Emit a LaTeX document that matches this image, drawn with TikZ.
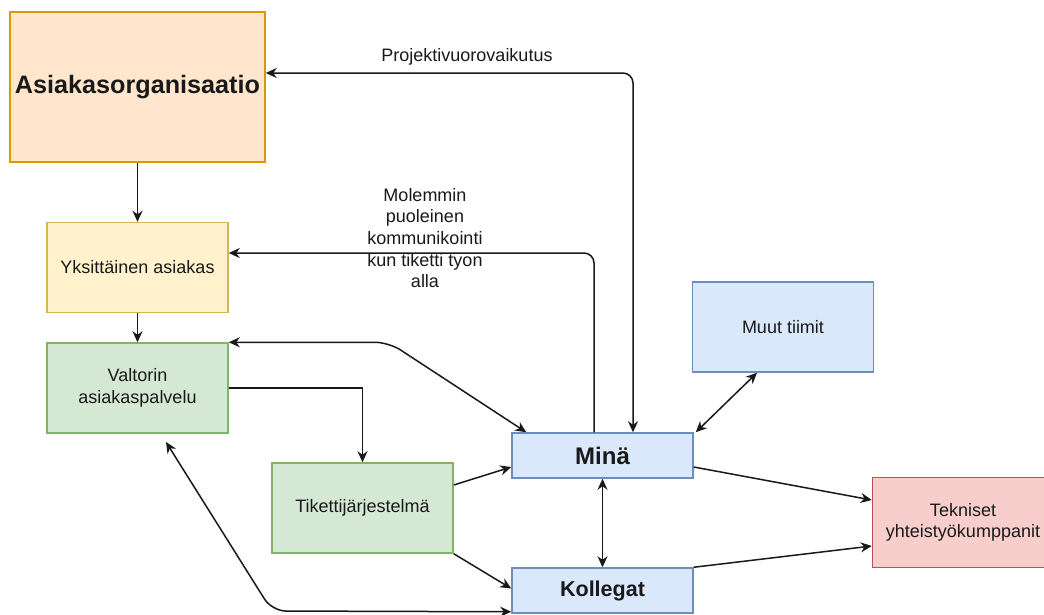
\documentclass[tikz,border=0pt]{standalone}
\usepackage{fontspec}
\setmainfont{Liberation Sans}
\usetikzlibrary{arrows.meta,calc}
\definecolor{orF}{HTML}{FFE6CC}\definecolor{orD}{HTML}{D79B00}
\definecolor{yeF}{HTML}{FFF2CC}\definecolor{yeD}{HTML}{D6B656}
\definecolor{grF}{HTML}{D5E8D4}\definecolor{grD}{HTML}{82B366}
\definecolor{blF}{HTML}{DAE8FC}\definecolor{blD}{HTML}{6C8EBF}
\definecolor{reF}{HTML}{F8CECC}\definecolor{reD}{HTML}{B85450}
\tikzset{
  box/.style={draw, line width=1.5pt, inner sep=0pt, align=center,
    font=\fontsize{18}{21.6}\selectfont, text=black!90},
  orbox/.style={box, fill=orF, draw=orD, minimum width=255pt, minimum height=150pt},
  yebox/.style={box, fill=yeF, draw=yeD, minimum width=181pt, minimum height=90pt},
  grbox/.style={box, fill=grF, draw=grD, minimum width=181pt, minimum height=90pt},
  blbox/.style={box, fill=blF, draw=blD, minimum width=181pt, minimum height=90pt},
  blsmall/.style={box, fill=blF, draw=blD, minimum width=181pt, minimum height=45pt},
  rebox/.style={box, fill=reF, draw=reD, minimum width=181pt, minimum height=90pt},
  tip/.tip={Stealth[length=11pt,width=10pt,inset=3.5pt]},
  conn/.style={line width=1.5pt, black!90, tip-tip},
  conr/.style={line width=1.5pt, black!90, -tip},
  lbl/.style={align=center, font=\fontsize{18}{21.6}\selectfont, text=black!90, inner sep=0pt},
}
\begin{document}
\begin{tikzpicture}[x=1pt,y=-1pt]
\useasboundingbox (0,0) rectangle (1044,614);
\clip (0,0) rectangle (1044,614);
\fill[white] (0,0) rectangle (1044,614);

\node[orbox, font=\bfseries\fontsize{25.2}{30}\selectfont] (asia) at (137.5,87) {Asiakasorganisaatio};
\node[yebox] (yks) at (137.5,267.5) {Yksittäinen asiakas};
\node[grbox] (valt) at (137.5,388) {Valtorin\\asiakaspalvelu};
\node[grbox] (tik) at (362.5,508) {Tikettijärjestelmä};
\node[blsmall, font=\bfseries\fontsize{24}{28}\selectfont] (mina) at (602.5,455.5) {Minä};
\node[blsmall, font=\bfseries\fontsize{21.5}{26}\selectfont] (kol) at (602.5,590.5) {Kollegat};
\node[blbox] (muut) at (783,327) {Muut tiimit};
\node[rebox] (tek) at (963,522.5) {Tekniset\\yhteistyökumppanit};

% labels
\node[lbl] (lpv) at (467,57) {Projektivuorovaikutus};
\node[lbl] (lmk) at (425,238) {Molemmin\\puoleinen\\kommunikointi\\kun tiketti tyon\\alla};

\coordinate (pv) at (633,73);
\coordinate (mk) at (594,253);
\coordinate (vb) at (166,442);
\coordinate (vk) at (272,611);

\draw[conr] (asia.south) -- (yks.north);
\draw[conr] (yks.south) -- (valt.north);
\draw[conn, rounded corners=10pt] (asia.east |- pv) -| (mina.north -| pv);
\draw[conr, rounded corners=10pt] (mina.north -| mk) |- (yks.east |- mk);
\draw[conn, rounded corners=14pt] (valt.north east) -- ++(160,0) -- ([xshift=15pt]mina.north west);
\draw[conr] (valt.east) -| (tik.north);
\draw[conr] ([yshift=23pt]tik.east) -- ([yshift=-11.5pt]mina.west);
\draw[conr] (tik.south east) -- ([yshift=2pt]kol.west);
\draw[conn, rounded corners=14pt] (vb) -- (vk) -- ([yshift=2pt]kol.south west);
\draw[conn] (mina.south) -- (kol.north);
\draw[conn] ([xshift=2pt]mina.north east) -- ([xshift=-26pt]muut.south);
\draw[conr] ([yshift=-11.5pt]mina.east) -- ([yshift=22.5pt]tek.west);
\draw[conr] (kol.north east) -- ([yshift=-23.5pt]tek.west);
\end{tikzpicture}
\end{document}
